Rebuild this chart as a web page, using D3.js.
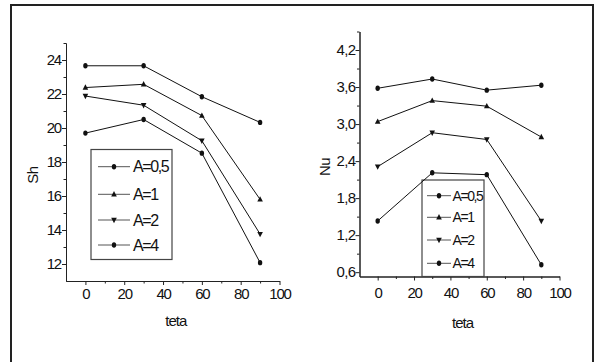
<!DOCTYPE html>
<html>
<head>
  <meta charset="utf-8">
  <title>Sh and Nu versus teta</title>
  <script src="https://d3js.org/d3.v7.min.js"></script>
  <style>
    body { margin: 0; background: #fff; }
    text { font-family: "Liberation Sans", Arial, sans-serif; fill: #111; }
  </style>
</head>
<body>
  <script>
  // data
  var teta = [0, 30, 60, 90];
  var series = ["A=0,5", "A=1", "A=2", "A=4"];
  var markers = ["circle", "up", "down", "circle"];
  var sh05 = [23.66, 23.66, 21.84, 20.33];
  var sh1 = [22.38, 22.57, 20.73, 15.80];
  var sh2 = [21.88, 21.34, 19.25, 13.76];
  var sh4 = [19.70, 20.50, 18.52, 12.08];
  var nu05 = [3.58, 3.73, 3.55, 3.63];
  var nu1 = [3.04, 3.38, 3.29, 2.79];
  var nu2 = [2.31, 2.86, 2.75, 1.43];
  var nu4 = [1.43, 2.21, 2.18, 0.72];
  var xTicks = [0, 20, 40, 60, 80, 100];
  var shTicks = [12, 14, 16, 18, 20, 22, 24];
  var nuTicks = [0.6, 1.2, 1.8, 2.4, 3.0, 3.6, 4.2];

  var width = 596, height = 362;
  var svg = d3.select("body").append("svg").attr("width", width).attr("height", height);

  // outer frame (bottom edge runs off the picture)
  svg.append("rect")
    .attr("x", 11).attr("y", 5).attr("width", 582).attr("height", 380)
    .attr("fill", "none").attr("stroke", "#222").attr("stroke-width", 2);

  function marker(g, type, x, y) {
    if (type == "circle") {
      g.append("ellipse").attr("cx", x).attr("cy", y).attr("rx", 2.2).attr("ry", 2.7).attr("fill", "#111");
    } else if (type == "up") {
      g.append("path").attr("d", "M" + x + "," + (y - 3.2) + "L" + (x + 2.8) + "," + (y + 2.2) + "L" + (x - 2.8) + "," + (y + 2.2) + "Z").attr("fill", "#111");
    } else {
      g.append("path").attr("d", "M" + x + "," + (y + 3.2) + "L" + (x + 2.8) + "," + (y - 2.2) + "L" + (x - 2.8) + "," + (y - 2.2) + "Z").attr("fill", "#111");
    }
  }

  function panel(opt) {
    var g = svg.append("g");
    var x = d3.scaleLinear().domain([-10, 100]).range(opt.xRange);
    var y = d3.scaleLinear().domain(opt.yDomain).range(opt.yRange);

    // axes
    var xAxis = d3.axisBottom(x).tickValues(xTicks).tickSize(4).tickSizeOuter(0).tickPadding(opt.xPad)
      .tickFormat(d3.format("d"));
    var xMinor = d3.axisBottom(x).tickValues([10, 30, 50, 70, 90]).tickSize(2.5).tickSizeOuter(0).tickFormat("");
    var yAxis = d3.axisLeft(y).tickValues(opt.yTicks).tickSize(4).tickSizeOuter(0).tickPadding(opt.yPad)
      .tickFormat(opt.fmt);
    var yMinor = d3.axisLeft(y).tickValues(opt.yMinor).tickSize(2.5).tickSizeOuter(0).tickFormat("");

    var y0 = opt.yRange[0];
    [xMinor, xAxis].forEach(function(a) {
      g.append("g").attr("class", "xa").attr("transform", "translate(0," + y0 + ")").call(a);
    });
    [yMinor, yAxis].forEach(function(a) {
      g.append("g").attr("class", "ya").attr("transform", "translate(" + opt.xRange[0] + ",0)").call(a);
    });
    g.selectAll(".domain").attr("stroke", "#222");
    g.selectAll(".tick line").attr("stroke", "#222");
    g.selectAll(".tick text")
      .style("font-family", "'Liberation Sans', Arial, sans-serif")
      .style("font-size", "15px").attr("fill", "#111");
    g.selectAll(".xa .tick text").style("letter-spacing", "-1.2px");
    g.selectAll(".ya .tick text").style("letter-spacing", opt.ySpacing);

    // axis titles
    g.append("text")
      .attr("x", (x(-10) + x(100)) / 2 + 3).attr("y", opt.xTitleY)
      .attr("text-anchor", "middle").style("font-size", "15px").style("letter-spacing", "-1px")
      .text("teta");
    g.append("text")
      .attr("transform", "translate(" + opt.titleX + "," + opt.titleY + ") rotate(-90)")
      .attr("text-anchor", "middle").style("font-size", "15px").style("letter-spacing", "-0.5px")
      .text(opt.title);

    // legend box
    var lg = opt.legend;
    g.append("rect")
      .attr("x", lg.x).attr("y", lg.y).attr("width", lg.w).attr("height", lg.h)
      .attr("fill", "#fff").attr("stroke", "#444").attr("stroke-width", 1.2);

    // series
    var line = d3.line().x(function(d, i) { return x(teta[i]); }).y(function(d) { return y(d); });
    opt.data.forEach(function(vals, k) {
      g.append("path").attr("d", line(vals)).attr("fill", "none").attr("stroke", "#111").attr("stroke-width", 1);
      vals.forEach(function(v, i) { marker(g, markers[k], x(teta[i]), y(v)); });
    });

    // legend entries
    series.forEach(function(name, k) {
      var yy = lg.rows[k];
      g.append("line").attr("x1", lg.lx0).attr("x2", lg.lx1).attr("y1", yy).attr("y2", yy)
        .attr("stroke", "#555").attr("stroke-width", 1);
      marker(g, markers[k], (lg.lx0 + lg.lx1) / 2, yy);
      g.append("text").attr("x", lg.tx).attr("y", yy + lg.fs * 0.36)
        .style("font-size", lg.fs + "px").style("letter-spacing", lg.ls).text(name);
    });
  }

  panel({
    xRange: [66, 279.5],
    yDomain: [11, 25],
    yRange: [281, 43],
    yTicks: shTicks,
    yMinor: [13, 15, 17, 19, 21, 23, 25],
    fmt: d3.format("d"),
    xPad: 3, yPad: 1, ySpacing: "-1.2px", xTitleY: 326,
    title: "Sh", titleX: 38, titleY: 175,
    data: [sh05, sh1, sh2, sh4],
    legend: { x: 91, y: 149.5, w: 81, h: 110, rows: [166.7, 194.3, 220, 245], lx0: 98, lx1: 130, tx: 133, fs: 16, ls: "-1.4px" }
  });

  panel({
    xRange: [359.5, 559.5],
    yDomain: [0.53, 4.5],
    yRange: [276.5, 31.5],
    yTicks: nuTicks,
    yMinor: [0.9, 1.5, 2.1, 2.7, 3.3, 3.9, 4.5],
    fmt: function(d) { return d3.format(".1f")(d).replace(".", ","); },
    xPad: 7, yPad: 0, ySpacing: "-0.6px", xTitleY: 328,
    title: "Nu", titleX: 330, titleY: 167,
    data: [nu05, nu1, nu2, nu4],
    legend: { x: 422, y: 180, w: 62, h: 96.5, rows: [195.7, 217.3, 240, 263.3], lx0: 427, lx1: 451, tx: 452.5, fs: 14, ls: "-1.4px" }
  });
  </script>
</body>
</html>
